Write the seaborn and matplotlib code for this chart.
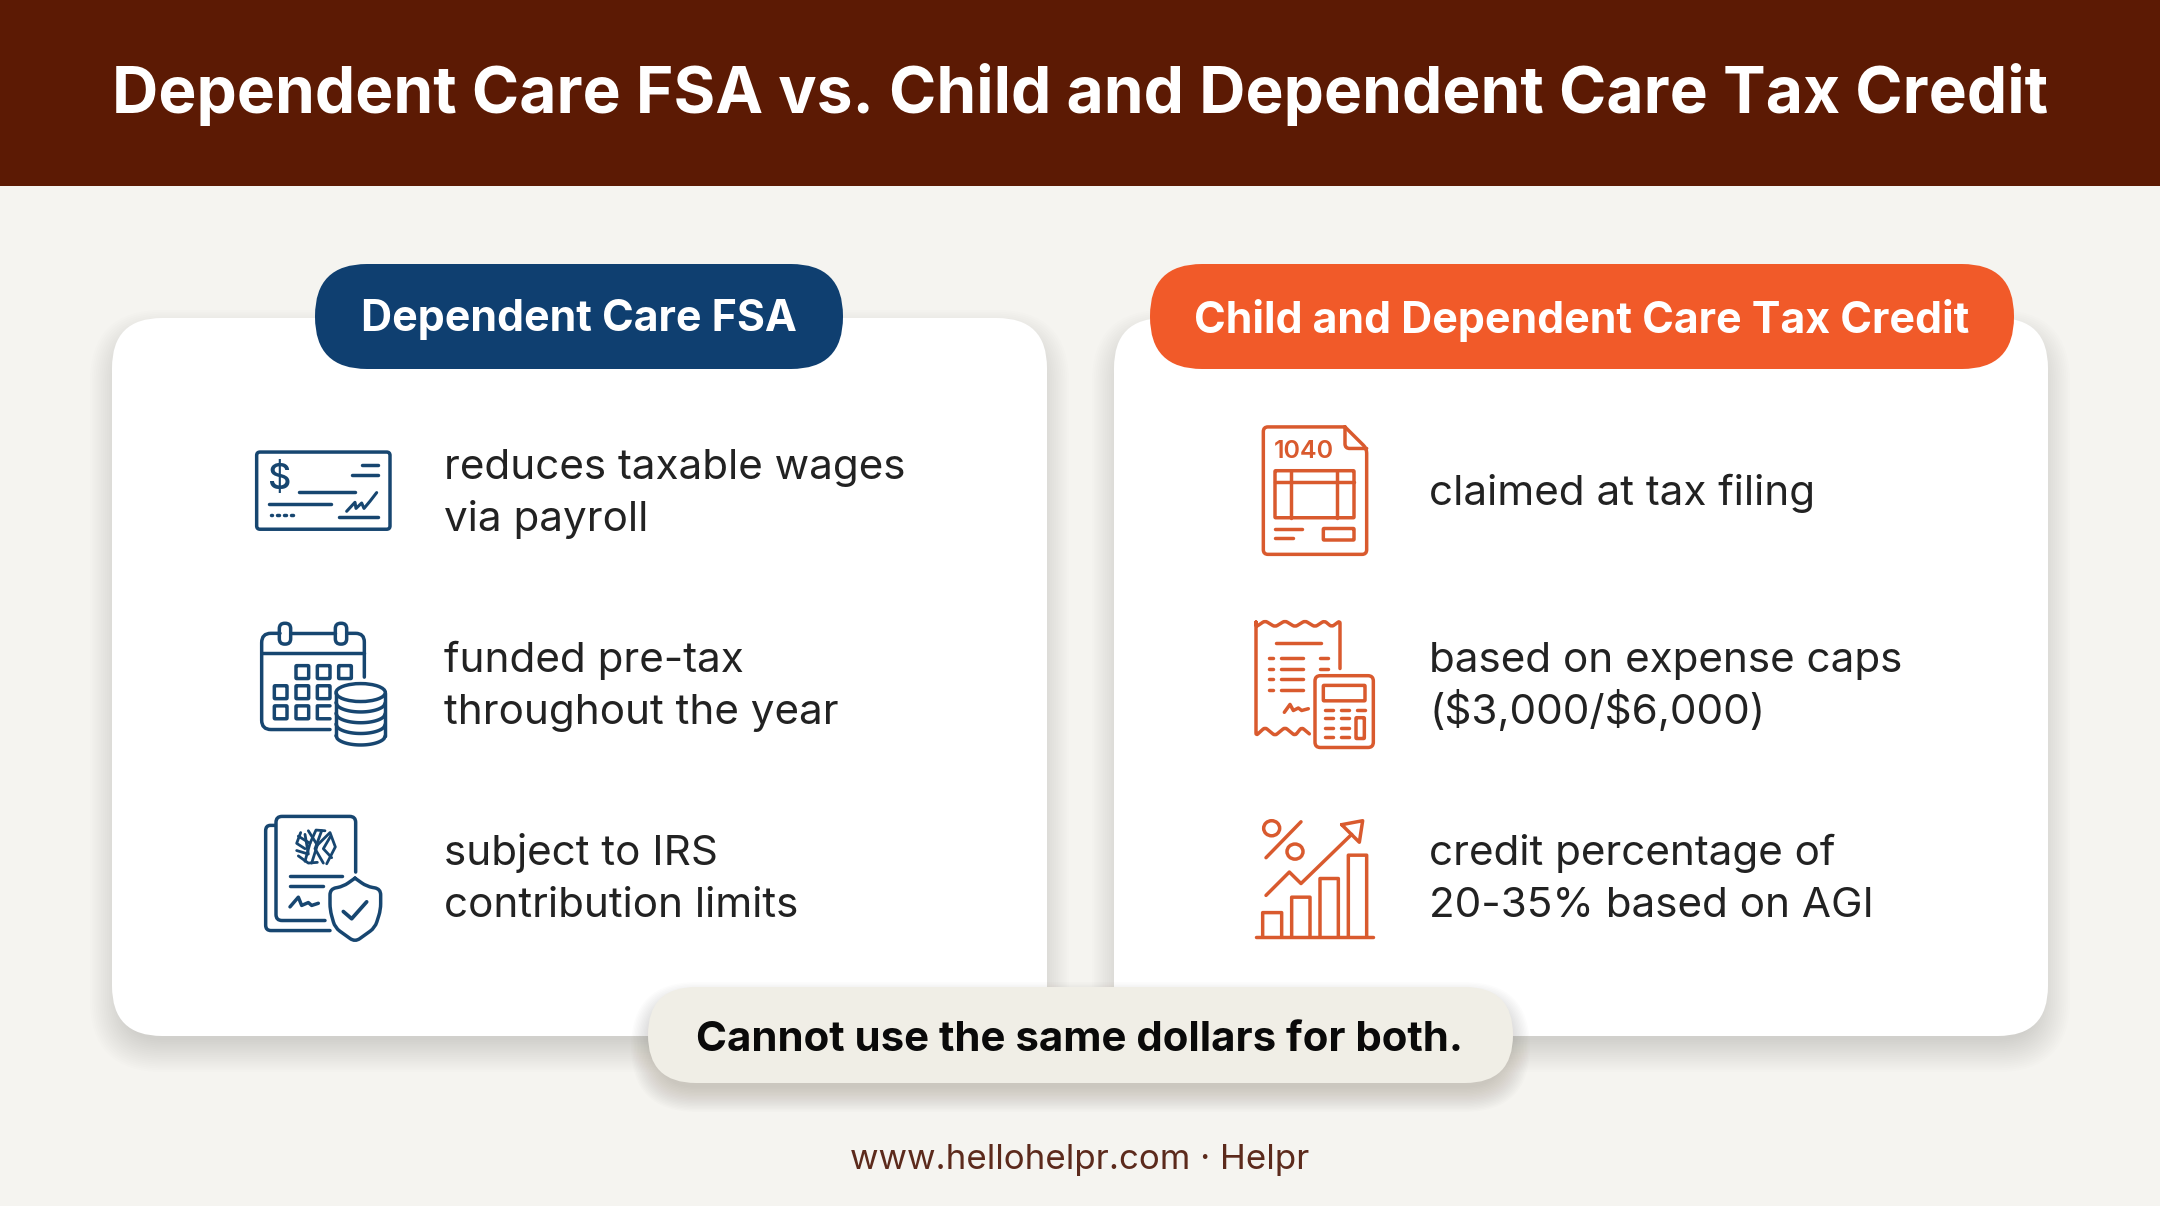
import numpy as np
import matplotlib
matplotlib.use("Agg")
import matplotlib.pyplot as plt
import seaborn as sns
from matplotlib.path import Path
from matplotlib.patches import PathPatch, FancyBboxPatch, Ellipse, Rectangle

TITLE = "Dependent Care FSA vs. Child and Dependent Care Tax Credit"
LEFT_HEAD = "Dependent Care FSA"
RIGHT_HEAD = "Child and Dependent Care Tax Credit"
LEFT_ITEMS = ["reduces taxable wages\nvia payroll", "funded pre-tax\nthroughout the year",
              "subject to IRS\ncontribution limits"]
RIGHT_ITEMS = ["claimed at tax filing", "based on expense caps\n($3,000/$6,000)",
               "credit percentage of\n20-35% based on AGI"]
NOTE = "Cannot use the same dollars for both."
FOOTER = "www.hellohelpr.com · Helpr"

BG = "#F5F4F0"; HEADER = "#5C1A04"; NAVY = "#0F3F70"; ORANGE = "#F15A29"
ICON_N = "#174670"; ICON_O = "#D95A2E"; INK = "#222222"; PILL = "#F0EEE6"; FOOT = "#5C2A1C"

sns.set_theme(style="white", rc={"figure.facecolor": BG, "axes.facecolor": BG})
plt.rcParams["font.family"] = ["Inter", "DejaVu Sans"]

fig = plt.figure(figsize=(21.6, 12.06), dpi=100)
ax = fig.add_axes([0, 0, 1, 1])
ax.set_xlim(0, 2160); ax.set_ylim(1206, 0); ax.axis("off")

def label(x, y, s, **k):
    ax.text(x, y, s, parse_math=False, zorder=k.pop("zorder", 5), **k)

def rbox(x0, y0, x1, y1, r, fc, z=1, alpha=1.0, ec="none"):
    p = FancyBboxPatch((x0 + r, y0 + r), x1 - x0 - 2 * r, y1 - y0 - 2 * r,
                       boxstyle=f"round,pad={r},rounding_size={r}", fc=fc, ec=ec, lw=0, alpha=alpha, zorder=z)
    ax.add_patch(p)

def shadow(x0, y0, x1, y1, r, dy, spread, peak, z):
    n = 18
    for i in range(n):
        s = spread * (1 - i / n) - spread * 0.35
        rbox(x0 - s, y0 + dy - s, x1 + s, y1 + dy + s, max(r + s, 2), "#3a3020", z=z, alpha=peak / n)

ax.add_patch(Rectangle((0, 0), 2160, 186, fc=HEADER, ec="none", zorder=1))
label(1080, 95, TITLE, color="white", fontsize=46.1, fontweight=700, ha="center", va="center")

shadow(112, 318, 1047, 1036, 50, 14, 34, 0.16, 1)
shadow(1114, 318, 2048, 1036, 50, 14, 34, 0.16, 1)
rbox(112, 318, 1047, 1036, 50, "white", z=2)
rbox(1114, 318, 2048, 1036, 50, "white", z=2)
rbox(315, 264, 843, 369, 52, NAVY, z=3)
rbox(1150, 264, 2014, 369, 52, ORANGE, z=3)
label(579, 320, LEFT_HEAD, color="white", fontsize=30.9, fontweight=700, ha="center", va="center")
label(1582, 320, RIGHT_HEAD, color="white", fontsize=30.9, fontweight=700, ha="center", va="center")

shadow(648, 987, 1513, 1083, 48, 12, 26, 0.22, 3)
rbox(648, 987, 1513, 1083, 48, PILL, z=4)
label(1080, 1040, NOTE, color="#0a0a0a", fontsize=30.2, fontweight=700, ha="center", va="center")
label(1080, 1160, FOOTER, color=FOOT, fontsize=25.1, ha="center", va="center")

# text rows: baseline of a row's first line, given as row centre +/- half the leading
ROW_Y = [490, 683, 876]
LEADING = 52.5
def item_rows(x, items):
    for y, t in zip(ROW_Y, items):
        lines = t.split("\n")
        first = y - LEADING * (len(lines) - 1) / 2 + 15
        for i, line in enumerate(lines):
            label(x, first + i * LEADING, line, color=INK, fontsize=30.4, ha="left", va="baseline")
item_rows(444, LEFT_ITEMS)
item_rows(1429, RIGHT_ITEMS)

LW = 2.5
YS = 560 / 1560
class Icon:
    def __init__(self, ox, oy, color):
        self.ox, self.oy, self.c = ox, oy, color
    def T(self, p):
        return (self.ox + p[0] / 3, self.oy + p[1] * YS)
    def line(self, *pts, r=0, closed=False, lw=LW, fill=None, ls="-", color=None):
        pts = [self.T(p) for p in pts]
        r /= 3
        verts, codes = [], []
        n = len(pts)
        if closed:
            seq = pts + [pts[0], pts[1]]
            a = np.array(pts[0]); b = np.array(pts[1])
            d = np.linalg.norm(b - a)
            st = a + (b - a) * min(r, d / 2) / d
            verts.append(tuple(st)); codes.append(Path.MOVETO)
            for i in range(1, n + 1):
                a, b, c = np.array(seq[i - 1]), np.array(seq[i]), np.array(seq[i + 1])
                d1, d2 = np.linalg.norm(b - a), np.linalg.norm(c - b)
                p1 = b - (b - a) * min(r, d1 / 2) / d1
                p2 = b + (c - b) * min(r, d2 / 2) / d2
                verts += [tuple(p1), tuple(b), tuple(p2)]
                codes += [Path.LINETO, Path.CURVE3, Path.CURVE3]
            verts.append(verts[0]); codes.append(Path.CLOSEPOLY)
        else:
            verts.append(pts[0]); codes.append(Path.MOVETO)
            for i in range(1, n - 1):
                a, b, c = np.array(pts[i - 1]), np.array(pts[i]), np.array(pts[i + 1])
                d1, d2 = np.linalg.norm(b - a), np.linalg.norm(c - b)
                p1 = b - (b - a) * min(r, d1 / 2) / d1
                p2 = b + (c - b) * min(r, d2 / 2) / d2
                verts += [tuple(p1), tuple(b), tuple(p2)]
                codes += [Path.LINETO, Path.CURVE3, Path.CURVE3]
            verts.append(pts[-1]); codes.append(Path.LINETO)
        ax.add_patch(PathPatch(Path(verts, codes), fc=fill or "none", ec=color or self.c, lw=lw, ls=ls,
                               capstyle="round", joinstyle="round", zorder=6))
    def rect(self, x0, y0, x1, y1, r=0, **k):
        self.line((x0, y0), (x1, y0), (x1, y1), (x0, y1), r=r, closed=True, **k)
    def ell(self, cx, cy, w, h, lw=LW, fill=None):
        c = self.T((cx, cy))
        ax.add_patch(Ellipse(c, w / 3, h * YS, fc=fill or "none", ec=self.c, lw=lw, zorder=6))
    def arc(self, cx, cy, w, h, lw=LW):
        x = cx + np.linspace(-w / 2, w / 2, 40)
        y = cy + h / 2 * np.sqrt(np.clip(1 - ((x - cx) / (w / 2)) ** 2, 0, 1))
        self.line(*zip(x, y), lw=lw)
    def text(self, x, y, s, size, weight=500):
        c = self.T((x, y))
        label(c[0], c[1], s, color=self.c, fontsize=size, fontweight=weight, ha="center", va="center", zorder=6)

# ---- navy icons
a = Icon(230, 400, ICON_N)
a.rect(80, 145, 480, 360, r=10)
a.text(148, 220, "$", 26, 500)
a.line((395, 182), (443, 182)); a.line((365, 208), (443, 208)); a.line((207, 256), (375, 256))
a.line((118, 290), (302, 290)); a.line((327, 325), (443, 325))
for x in (122, 142, 162, 184):
    a.line((x, 321), (x + 5, 321))
a.line((350, 310), (375, 285), (378, 302), (395, 287), (402, 302), (420, 282), (440, 258), lw=2.2)

a.line((300, 918), (95, 918), (95, 650), (150, 650), r=28)
a.line((185, 650), (315, 650))
a.line((350, 650), (403, 650), (403, 772), r=26)
a.rect(148, 622, 182, 680, r=16); a.rect(316, 622, 350, 680, r=16)
a.line((95, 706), (403, 706))
for x, y in [(198, 740), (262, 740), (326, 740), (133, 796), (198, 796), (262, 796), (133, 852), (198, 852)]:
    a.rect(x, y, x + 38, y + 36, r=2)
a.line((300, 852), (262, 852), (262, 888), (300, 888))
a.ell(392, 815, 148, 50, fill="white")
a.line((318, 815), (318, 935)); a.line((466, 815), (466, 935))
for yy in (843, 873, 903, 935):
    a.arc(392, yy, 148, 52)

a.line((135, 1185), (107, 1185), (107, 1478), (300, 1478), r=16)
a.line((285, 1450), (138, 1450), (138, 1160), (377, 1160), (377, 1315), r=18)
for pts in [((205, 1215), (240, 1235), (225, 1285)), ((235, 1200), (262, 1240), (245, 1290)),
            ((275, 1200), (255, 1250), (280, 1290)), ((302, 1215), (280, 1250), (305, 1275)),
            ((200, 1255), (235, 1265), (225, 1210)), ((212, 1205), (200, 1235), (225, 1250)),
            ((205, 1270), (235, 1290), (262, 1288)), ((262, 1240), (300, 1205), (316, 1245), (290, 1292)),
            ((240, 1235), (258, 1198), (285, 1200))]:
    a.line(*pts, lw=2.0)
a.line((180, 1325), (335, 1325)); a.line((180, 1355), (280, 1355))
a.line((180, 1412), (205, 1385), (215, 1408), (235, 1400), (245, 1408), (265, 1402))
a.line((375, 1332), (340, 1355), (300, 1362), (300, 1420), (315, 1470), (375, 1510),
       (435, 1470), (452, 1420), (452, 1362), (410, 1355), (375, 1332), r=18, fill="white")
a.line((340, 1425), (365, 1445), (410, 1398), lw=2.7)

# ---- orange icons
b = Icon(1230, 400, ICON_O)
b.line((345, 75), (100, 75), (100, 430), (410, 430), (410, 135), (345, 75), r=14)
b.line((345, 75), (345, 135), (410, 135), r=14)
b.text(222, 143, "1040", 18, 600)
b.rect(135, 197, 372, 328, r=2)
b.line((135, 228), (372, 228)); b.line((183, 197), (183, 328)); b.line((320, 197), (320, 328))
b.line((135, 360), (215, 360)); b.line((135, 385), (190, 385))
b.rect(280, 358, 372, 390, r=2)

b.line((330, 748), (330, 615), (305, 632), (283, 615), (255, 632), (225, 615), (195, 632), (165, 615),
       (135, 632), (105, 615), (78, 632), (78, 615), (78, 935), (105, 912), (135, 935), (165, 912),
       (195, 935), (215, 912), (238, 930), r=8)
b.line((138, 677), (272, 677))
for y in (718, 748, 777, 807):
    b.line((117, y), (128, y)); b.line((152, y), (220, y))
for y in (718, 748):
    b.line((270, y), (295, y))
b.line((163, 870), (180, 848), (190, 865), (205, 858), (215, 865), (235, 860))
b.rect(255, 768, 430, 968, r=16)
b.rect(280, 795, 405, 838, r=2)
for y in (863, 887, 913, 940):
    b.line((284, y), (310, y)); b.line((332, y), (358, y))
b.line((380, 863), (405, 863))
b.rect(378, 885, 403, 943, r=2)

b.ell(125, 1193, 48, 42); b.ell(195, 1258, 48, 42)
b.line((213, 1175), (108, 1275))
b.line((108, 1380), (178, 1315), (213, 1347), (365, 1210))
b.line((335, 1183), (398, 1172), (388, 1232), (335, 1183))
for x0, x1, y in [(98, 155, 1428), (185, 240, 1385), (270, 325, 1333), (355, 410, 1268)]:
    b.line((x0, 1495), (x0, y), (x1, y), (x1, 1495))
b.line((77, 1495), (430, 1495))

fig.savefig("out.png", dpi=100, facecolor=BG)
